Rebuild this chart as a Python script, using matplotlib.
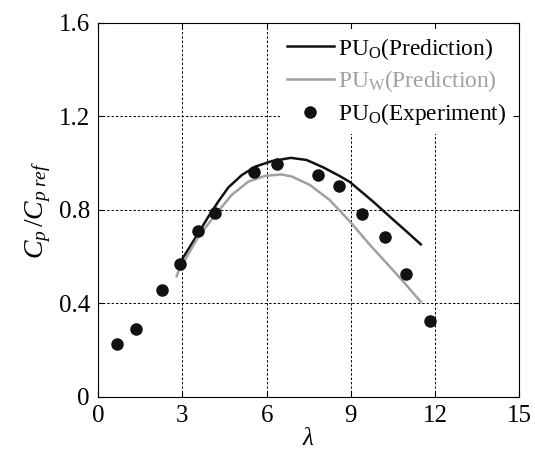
import matplotlib
matplotlib.use('Agg')
from matplotlib import pyplot as plt

plt.rcParams['font.family'] = ['Liberation Serif', 'DejaVu Serif']
plt.rcParams['mathtext.fontset'] = 'custom'
plt.rcParams['mathtext.rm'] = 'Liberation Serif'
plt.rcParams['mathtext.it'] = 'Liberation Serif:italic'

# experiment, PU_O
lam_exp = [0.65, 1.33, 2.28, 2.91, 3.57, 4.17, 5.55, 6.38, 7.82, 8.56, 9.40, 10.22, 10.96, 11.82]
cp_exp = [0.224, 0.289, 0.458, 0.568, 0.709, 0.785, 0.962, 0.996, 0.948, 0.903, 0.781, 0.683, 0.525, 0.325]

# prediction, PU_O
lam_o = [2.88, 2.97, 3.56, 3.92, 4.27, 4.63, 5.11, 5.58, 6.18, 6.86, 7.42, 8.02, 8.59, 8.97, 9.80, 10.39, 10.99, 11.49]
cp_o = [0.565, 0.585, 0.699, 0.770, 0.834, 0.895, 0.948, 0.984, 1.008, 1.022, 1.013, 0.981, 0.945, 0.918, 0.834, 0.770, 0.706, 0.652]

# prediction, PU_W
lam_w = [2.79, 2.85, 3.56, 4.16, 4.75, 5.34, 5.94, 6.53, 6.90, 7.54, 8.25, 8.97, 9.68, 10.39, 10.87, 11.49]
cp_w = [0.515, 0.535, 0.684, 0.777, 0.863, 0.920, 0.945, 0.951, 0.942, 0.906, 0.841, 0.749, 0.649, 0.556, 0.492, 0.406]

xticks = [0, 3, 6, 9, 12, 15]
yticks = [0, 0.4, 0.8, 1.2, 1.6]
yticklabels = ['0', '0.4', '0.8', '1.2', '1.6']

fig = plt.figure(figsize=(5.35, 4.5), dpi=100)
ax = fig.add_axes([0.1837, 0.1184, 0.787, 0.831])

ax.plot(lam_o, cp_o, color='#111111', lw=1.8, label=r'PU$_\mathregular{O}$(Prediction)', zorder=3)
ax.plot(lam_w, cp_w, color='#a0a0a0', lw=1.8, label=r'PU$_\mathregular{W}$(Prediction)', zorder=3)
ax.plot(lam_exp, cp_exp, 'o', color='#111111', ms=8, label=r'PU$_\mathregular{O}$(Experiment)', zorder=4)

ax.set_xlim(0, 15)
ax.set_ylim(0, 1.6)
ax.set_xticks(xticks)
ax.set_yticks(yticks)
ax.set_yticklabels(yticklabels)
ax.tick_params(direction='in', top=True, right=True, labelsize=18, length=4, pad=6)
ax.grid(True, color='black', ls=(0, (2.5, 2)), lw=0.7)

ax.set_xlabel(r'$\lambda$', fontsize=18, labelpad=1)
ax.set_ylabel(r'$C_p\,/C_{p\;ref}$', fontsize=20, labelpad=4)

leg = ax.legend(loc='upper right', fontsize=16.8, frameon=True, framealpha=1,
                edgecolor='none', handlelength=2.0, handletextpad=0.2,
                borderaxespad=0.25, labelspacing=0.3, borderpad=0.3)
leg.get_texts()[1].set_color('#a0a0a0')
leg.set_zorder(5)

fig.savefig('out.png', dpi=100)
